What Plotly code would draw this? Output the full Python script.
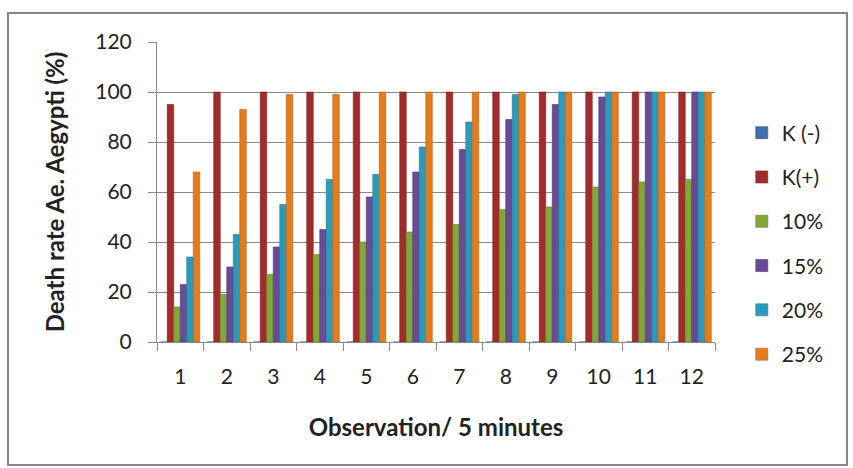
import plotly.graph_objects as go

categories = ["1", "2", "3", "4", "5", "6", "7", "8", "9", "10", "11", "12"]
series_names = ["K (-)", "K(+)", "10%", "15%", "20%", "25%"]
k_minus = [0, 0, 0, 0, 0, 0, 0, 0, 0, 0, 0, 0]
k_plus = [95, 100, 100, 100, 100, 100, 100, 100, 100, 100, 100, 100]
c10 = [14, 19, 27, 35, 40, 44, 47, 53, 54, 62, 64, 65]
c15 = [23, 30, 38, 45, 58, 68, 77, 89, 95, 98, 100, 100]
c20 = [34, 43, 55, 65, 67, 78, 88, 99, 100, 100, 100, 100]
c25 = [68, 93, 99, 99, 100, 100, 100, 100, 100, 100, 100, 100]
y_ticks = [0, 20, 40, 60, 80, 100, 120]

series_values = [k_minus, k_plus, c10, c15, c20, c25]
colors = ["#3F6FAD", "#A22C2C", "#82A83A", "#6A4B95", "#2B9BBC", "#E47C1C"]
line_colors = ["#2C5283", "#7E2220", "#63822B", "#4F3673", "#1F7A95", "#B8621A"]

FONT = "Lato"
fig = go.Figure()
for i, (name, vals) in enumerate(zip(series_names, series_values)):
    fig.add_trace(go.Bar(
        x=categories, y=vals, name=name,
        marker=dict(color=colors[i], line=dict(color=line_colors[i], width=0.6)),
        legendgroup=name,
    ))

fig.update_layout(
    width=853, height=468,
    margin=dict(l=157, r=138, t=42, b=126),
    paper_bgcolor="white", plot_bgcolor="white",
    barmode="group", bargap=0.16, bargroupgap=0,
    font=dict(family=FONT, size=21, color="#222"),
    showlegend=True,
    legend=dict(x=1.048, xanchor="left", y=0.765, yanchor="top",
                font=dict(family=FONT, size=21, color="#222"),
                tracegroupgap=14, bgcolor="rgba(0,0,0,0)"),
    xaxis=dict(
        type="category", showgrid=False, showline=True, linecolor="#888", linewidth=1,
        ticks="outside", tickson="boundaries", ticklen=8, tickcolor="#888",
        ticklabelstandoff=16,
        tickfont=dict(family=FONT, size=21, color="#222"),
        title=dict(text="<b>Observation/ 5 minutes</b>", standoff=31,
                   font=dict(family=FONT, size=24, color="#222")),
    ),
    yaxis=dict(
        range=[0, 120], tickvals=y_ticks, showgrid=True, gridcolor="#8a8a8a", gridwidth=1,
        showline=True, linecolor="#888", linewidth=1, zeroline=False,
        ticks="outside", ticklen=8, tickcolor="#888", ticklabelstandoff=12,
        tickfont=dict(family=FONT, size=21, color="#222"),
        title=dict(text="<b>Death rate Ae. Aegypti (%)</b>", standoff=23,
                   font=dict(family=FONT, size=24, color="#222")),
    ),
    shapes=[dict(type="rect", xref="paper", yref="paper",
                 x0=-0.267, x1=1.2366, y0=-0.41, y1=1.0967,
                 line=dict(color="#868686", width=2), fillcolor="rgba(0,0,0,0)", layer="below")],
)

fig.write_html("out.html")
